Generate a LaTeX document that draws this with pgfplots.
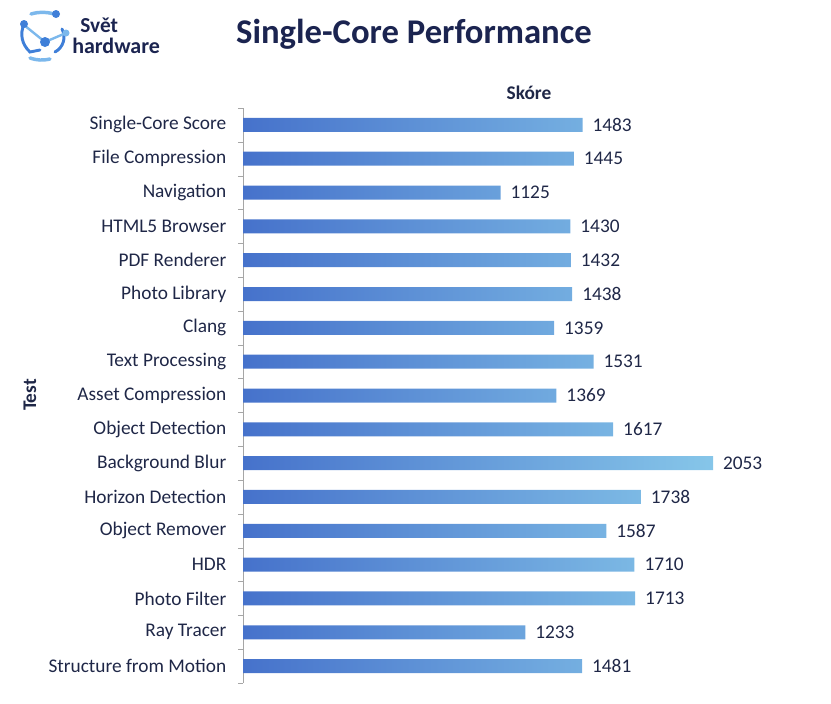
\documentclass[border=0pt]{standalone}
\usepackage{pgfplots}
\pgfplotsset{compat=1.18}
\usepackage{fontspec}
\setmainfont{Carlito}
\definecolor{navy}{HTML}{1B2450}
\definecolor{txt}{HTML}{1F2747}
\definecolor{barL}{HTML}{4672CB}
\definecolor{barR}{HTML}{86C6E9}
\definecolor{logoA}{HTML}{3F7FD8}
\definecolor{logoB}{HTML}{7CB8EC}
\definecolor{axisgray}{HTML}{A6A6A6}

\begin{document}
\begin{tikzpicture}
\begin{scope}[x=0.75pt,y=-0.75pt]
\path[use as bounding box] (0,0) rectangle (831,703);
% logo
\draw[logoB, line width=2.6pt, line cap=round] (31,14) to[bend left=15] (54,14);
\draw[logoB, line width=2.6pt, line cap=round] (30,58) to[bend right=15] (50,59);
\draw[logoA, line width=2.2pt, line cap=round] (24,24) to[bend right=35] (30,52) -- (40,50);
\draw[logoA, line width=2.2pt, line cap=round] (62,29) to[bend left=45] (55,52);
\draw[logoB, line width=1.8pt] (24,25) -- (45,42) -- (66,33);
\fill[logoA] (45,42) circle (5);
\fill[logoA] (24,24) circle (4);
\fill[logoA] (56,14) circle (4);
\fill[logoB] (66,33) circle (3.5);
\node[anchor=base west, inner sep=0, text=navy, font=\bfseries\fontsize{16}{18}\selectfont] at (80,32) {Svět};
\node[anchor=base west, inner sep=0, text=navy, font=\bfseries\fontsize{16.5}{18}\selectfont] at (72,53) {hardware};
% titles
\node[text=navy, font=\bfseries\fontsize{26}{30}\selectfont] at (414,34) {Single-Core Performance};
\node[text=txt, font=\bfseries\fontsize{14.5}{16}\selectfont] at (529,93) {Skóre};
\node[text=txt, font=\bfseries\fontsize{14.5}{16}\selectfont, rotate=90] at (30,395) {Test};
\end{scope}
\begin{axis}[
  at={(182.25pt,-512.25pt)}, anchor=south west,
  scale only axis, width=352.5pt, height=431.25pt,
  xbar, bar width=10.5pt,
  xmin=0, xmax=2053, ymin=-0.5, ymax=16.5, y dir=reverse,
  axis x line=none, axis y line*=left,
  y axis line style={draw=axisgray},
  ytick={0,...,16},
  yticklabels={Single-Core Score, File Compression, Navigation, HTML5 Browser, PDF Renderer, Photo Library, Clang, Text Processing, Asset Compression, Object Detection, Background Blur, Horizon Detection, Object Remover, HDR, Photo Filter, Ray Tracer, Structure from Motion},
  major tick length=0pt,
  minor ytick={-0.5,0.5,...,16.5},
  minor tick length=3.75pt, tick align=outside,
  minor tick style={draw=axisgray},
  yticklabel style={font=\fontsize{14.5}{16}\selectfont, text=txt, xshift=-9pt},
  nodes near coords,
  every node near coord/.append style={font=\fontsize{14.5}{16}\selectfont, text=txt, anchor=west, xshift=4pt},
  clip=false,
  /pgf/number format/.cd, 1000 sep={}, assume math mode=true,
]
\addplot[draw=none, left color=barL, right color=barR] coordinates {
  (1483,0) (1445,1) (1125,2) (1430,3) (1432,4) (1438,5) (1359,6) (1531,7) (1369,8)
  (1617,9) (2053,10) (1738,11) (1587,12) (1710,13) (1713,14) (1233,15) (1481,16)
};
\end{axis}
\end{tikzpicture}
\end{document}
